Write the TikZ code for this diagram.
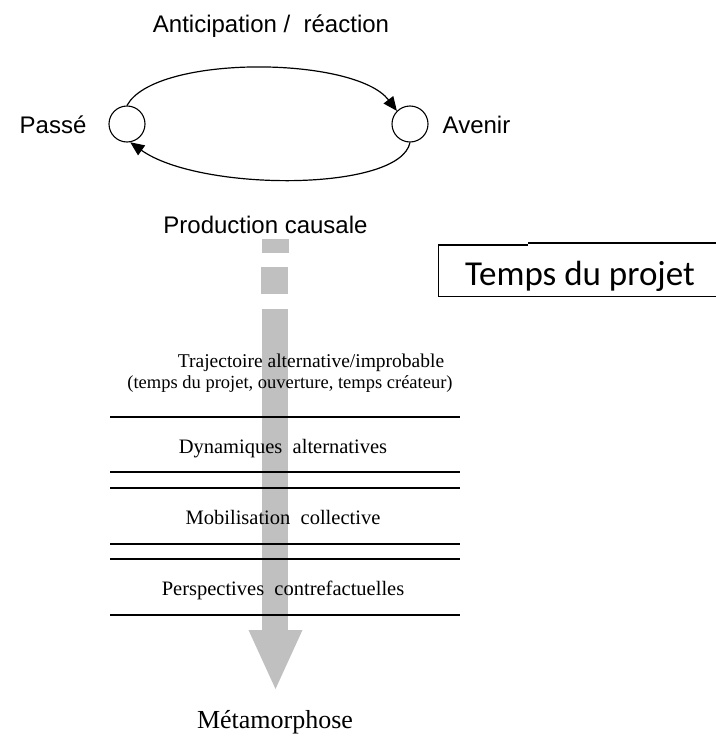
\documentclass[tikz,border=0pt]{standalone}
\usepackage{fontspec}
\setmainfont{Liberation Serif}
\newfontfamily\arialf{Liberation Sans}
\newfontfamily\calib{Carlito}
\usetikzlibrary{arrows.meta}
\definecolor{bargray}{RGB}{192,192,192}
\tikzset{
  sanslbl/.style={inner sep=0pt, anchor=base, font=\arialf\fontsize{24}{28}\selectfont},
  seriflbl/.style={inner sep=0pt, anchor=base, font=\fontsize{20.5}{24}\selectfont},
  smallserif/.style={inner sep=0pt, anchor=base, font=\fontsize{18.5}{22}\selectfont},
  timenode/.style={circle, draw, line width=1.1pt, minimum size=36pt, inner sep=0pt, fill=white},
  cyclearrow/.style={line width=1.2pt, -{Triangle[length=14pt,width=12pt]}},
  rowline/.style={line width=1.2pt},
  barfill/.style={fill=bargray, draw=none}
}
\begin{document}
\begin{tikzpicture}[x=1pt,y=-1pt]
\useasboundingbox (0,0) rectangle (715,736);
% top cycle
\node[sanslbl] (antic) at (271,32) {Anticipation /\ \ réaction};
\node[timenode] (P) at (127,124) {};
\node[timenode] (A) at (410,124) {};
\node[sanslbl] (passe) at (53,133) {Passé};
\node[sanslbl] (avenir) at (476.5,133) {Avenir};
\draw[cyclearrow] (P.north) .. controls (155,54) and (355,56) .. (A.135);
\draw[cyclearrow] (A.south) .. controls (400,192) and (200,192) .. (P.-80);
\node[sanslbl] (prod) at (265.5,233) {Production causale};
% gray dashed big arrow
\fill[barfill] (262,239) rectangle (289,253);
\fill[barfill] (261,267) rectangle (288,294);
\fill[barfill] (262,309) rectangle (288,631);
\fill[barfill] (248.5,630) -- (302.5,630) -- (275.5,689) -- cycle;
% Temps du projet box
\node[inner sep=0pt, anchor=base, font=\calib\fontsize{35}{40}\selectfont] (temps) at (580,285) {Temps du projet};
\draw[line width=1.2pt] (528,245) -- (438.5,245) -- (438.5,296.5) -- (716,296.5);
\draw[line width=1.2pt] (528,243) -- (716,243);
% trajectory text
\node[smallserif, font=\fontsize{19.5}{23}\selectfont] (traj1) at (311,367) {Trajectoire alternative/improbable};
\node[smallserif] (traj2) at (290,388) {(temps du projet, ouverture, temps créateur)};
% rows
\draw[rowline] (110,417) -- (460,417);
\draw[rowline] (110,472) -- (460,472);
\node[seriflbl] (dyn) at (283,453) {Dynamiques\ \ alternatives};
\draw[rowline] (110,488) -- (460,488);
\draw[rowline] (110,544) -- (460,544);
\node[seriflbl] (mob) at (283,524) {Mobilisation\ \ collective};
\draw[rowline] (110,559) -- (460,559);
\draw[rowline] (110,615) -- (460,615);
\node[seriflbl] (persp) at (283,595) {Perspectives\ \ contrefactuelles};
\node[inner sep=0pt, anchor=base, font=\fontsize{26}{30}\selectfont] (meta) at (275,728) {Métamorphose};
\end{tikzpicture}
\end{document}
